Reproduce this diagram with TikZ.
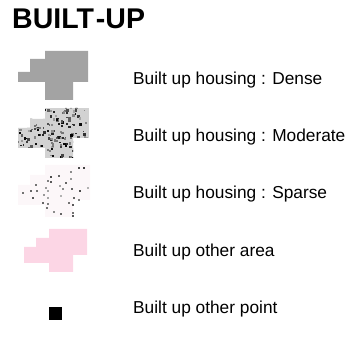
\documentclass[tikz,border=0pt]{standalone}
\usepackage{fontspec}
\setmainfont{Liberation Sans}
\usetikzlibrary{positioning}
\definecolor{densegray}{HTML}{A3A3A3}
\definecolor{modgray}{HTML}{D2D2D2}
\definecolor{sparsepink}{HTML}{FCF7F9}
\definecolor{otherpink}{HTML}{FCD6E5}
\tikzset{label/.style={anchor=base west,inner sep=0pt,font=\fontsize{17.3}{19}\selectfont},
  title/.style={anchor=base west,inner sep=0pt,font=\fontsize{28.5}{31}\selectfont\bfseries}}

\begin{document}
\begin{tikzpicture}[x=1pt,y=-1pt]
\useasboundingbox (0,0) rectangle (359,344);
\node[title] (head) at (12,29) {BUILT\kern2pt-UP};

% dense
\fill[densegray] (45,51) -- (88,51) -- (88,82) -- (73,82) -- (73,100) -- (45,100) -- (45,82) -- (18,82) -- (18,72) -- (30,72) -- (30,59) -- (45,59) -- cycle;
\node[label] (dense) at (133,85) {Built up housing : Dense};

% moderate
\begin{scope}
\clip (45,108) -- (89,108) -- (89,138) -- (73,138) -- (73,158) -- (45,158) -- (45,148) -- (18,148) -- (18,128) -- (30,128) -- (30,119) -- (45,119) -- cycle;
\fill[modgray] (18,108) rectangle (89,158);
\pgfmathsetseed{41}
\foreach \i in {1,...,190} {
  \pgfmathsetmacro\px{17+72*rnd}
  \pgfmathsetmacro\py{107+51*rnd}
  \pgfmathsetmacro\sh{35+65*rnd}
  \pgfmathsetmacro\sz{1.4+1.4*rnd}
  \fill[black!\sh] (\px,\py) rectangle ++(\sz,\sz);
}
\end{scope}
\node[label] (moderate) at (133,142) {Built up housing : Moderate};

% sparse
\fill[sparsepink] (45,165) -- (90,165) -- (90,200) -- (73,200) -- (73,217) -- (45,217) -- (45,205) -- (18,205) -- (18,185) -- (30,185) -- (30,175) -- (45,175) -- cycle;
\foreach \px/\py/\sh in {77.7/167/70, 82.7/167/75, 70/171.2/45, 58.3/175.5/60, 50/176.3/70,
  47.3/179.7/50, 50/181.1/65, 70/178.3/40, 65/182.5/60, 35/183.9/55, 45/186.8/40,
  59.3/185.4/35, 30/189.6/60, 36/190.2/55, 47.3/189.6/35, 61.7/188.2/45, 71/188.2/60,
  87.3/186.8/30, 21.7/192.4/55, 79.3/190.4/70, 43.3/193.8/40, 60/195.2/30, 73.3/196.7/60,
  31.7/197.5/65, 46.7/196.7/35, 68.3/201.7/55, 78.3/198.9/50, 41.7/202.3/60,
  46.7/203.1/50, 71.7/203.7/65, 46/207.4/55, 53.3/210.8/45, 60/213/60, 71.7/211.6/55,
  71.7/215/65}
  \fill[black!\sh] (\px,\py) rectangle ++(2,2);
\node[label] (sparse) at (133,199) {Built up housing : Sparse};

% other area
\fill[otherpink] (49,229) -- (87,229) -- (87,255) -- (73,255) -- (73,272) -- (49,272) -- (49,263) -- (24,263) -- (24,247) -- (36,247) -- (36,238) -- (49,238) -- cycle;
\node[label] (area) at (133,257) {Built up other area};

% other point
\fill[black] (49,307) rectangle (62,320);
\node[label] (point) at (133,314) {Built up other point};
\end{tikzpicture}
\end{document}
